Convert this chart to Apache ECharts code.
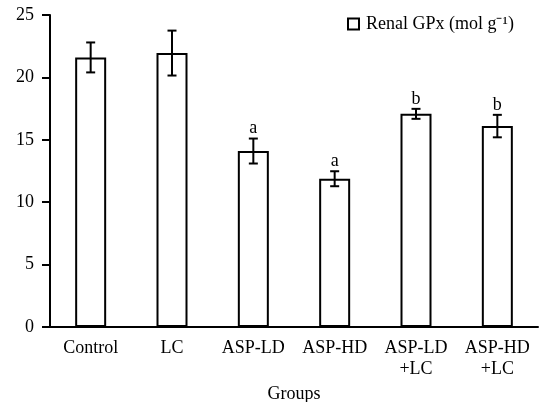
<!DOCTYPE html>
<html>
<head>
<meta charset="utf-8">
<script src="https://cdn.jsdelivr.net/npm/echarts@6/dist/echarts.min.js"></script>
<style>
  html, body { margin: 0; padding: 0; background: #fff; }
  #chart { width: 547px; height: 402px; }
</style>
</head>
<body>
<div id="chart"></div>
<script>
var categories = ["Control", "LC", "ASP-LD", "ASP-HD", "ASP-LD\n+LC", "ASP-HD\n+LC"];
var means = [21.6, 21.95, 14.1, 11.88, 17.08, 16.1];
var errors = [1.2, 1.8, 1.0, 0.6, 0.4, 0.9];
var marks = ["", "", "a", "a", "b", "b"];
var yTicks = [0, 5, 10, 15, 20, 25];

var font = "Liberation Serif";
var chartDom = document.getElementById("chart");
var myChart = echarts.init(chartDom);
var option;

option = {
  animation: false,
  backgroundColor: "#fff",
  grid: { left: 50, right: 9, top: 15, bottom: 75, outerBoundsMode: "none", containLabel: false },
  legend: {
    left: 342,
    top: 10,
    padding: 5,
    itemWidth: 11,
    itemHeight: 11,
    icon: "rect",
    data: ["Renal GPx (mol g\u207B\u00B9)"],
    textStyle: { fontFamily: font, fontSize: 18, color: "#000", padding: [0, 0, 0, 2] },
  },
  xAxis: {
    type: "category",
    data: categories,
    name: "Groups",
    nameLocation: "middle",
    nameGap: 56,
    nameTextStyle: { fontFamily: font, fontSize: 18, color: "#000" },
    axisLine: { lineStyle: { color: "#000", width: 2 } },
    axisTick: { length: 9, lineStyle: { color: "#000", width: 2 } },
    axisLabel: {
      interval: 0,
      margin: 11,
      fontFamily: font,
      fontSize: 18,
      lineHeight: 21,
      color: "#000",
    },
  },
  yAxis: {
    type: "value",
    min: yTicks[0],
    max: yTicks[yTicks.length - 1],
    interval: 5,
    splitLine: { show: false },
    axisLine: { show: true, lineStyle: { color: "#000", width: 2 } },
    axisTick: { show: true, length: 8, lineStyle: { color: "#000", width: 2 } },
    axisLabel: { margin: 16, fontFamily: font, fontSize: 18, color: "#000" },
  },
  series: [
    {
      name: "Renal GPx (mol g\u207B\u00B9)",
      type: "bar",
      barWidth: 31,
      data: means,
      itemStyle: { color: "#fff", borderColor: "#000", borderWidth: 2 },
    },
    {
      type: "custom",
      data: means.map(function (m, i) {
        return [i, m - errors[i], m + errors[i]];
      }),
      renderItem: function (params, api) {
        var i = api.value(0);
        var lo = api.coord([i, api.value(1)]);
        var hi = api.coord([i, api.value(2)]);
        var cap = 4.5;
        var style = { stroke: "#000", lineWidth: 2 };
        var children = [
          { type: "line", shape: { x1: hi[0], y1: hi[1], x2: lo[0], y2: lo[1] }, style: style },
          { type: "line", shape: { x1: hi[0] - cap, y1: hi[1], x2: hi[0] + cap, y2: hi[1] }, style: style },
          { type: "line", shape: { x1: lo[0] - cap, y1: lo[1], x2: lo[0] + cap, y2: lo[1] }, style: style },
        ];
        if (marks[params.dataIndex]) {
          children.push({
            type: "text",
            style: {
              text: marks[params.dataIndex],
              x: hi[0],
              y: hi[1] - 1,
              align: "center",
              verticalAlign: "bottom",
              fontFamily: font,
              fontSize: 18,
              fill: "#000",
            },
          });
        }
        return { type: "group", children: children };
      },
      z: 10,
    },
  ],
};

option && myChart.setOption(option);
</script>
</body>
</html>
